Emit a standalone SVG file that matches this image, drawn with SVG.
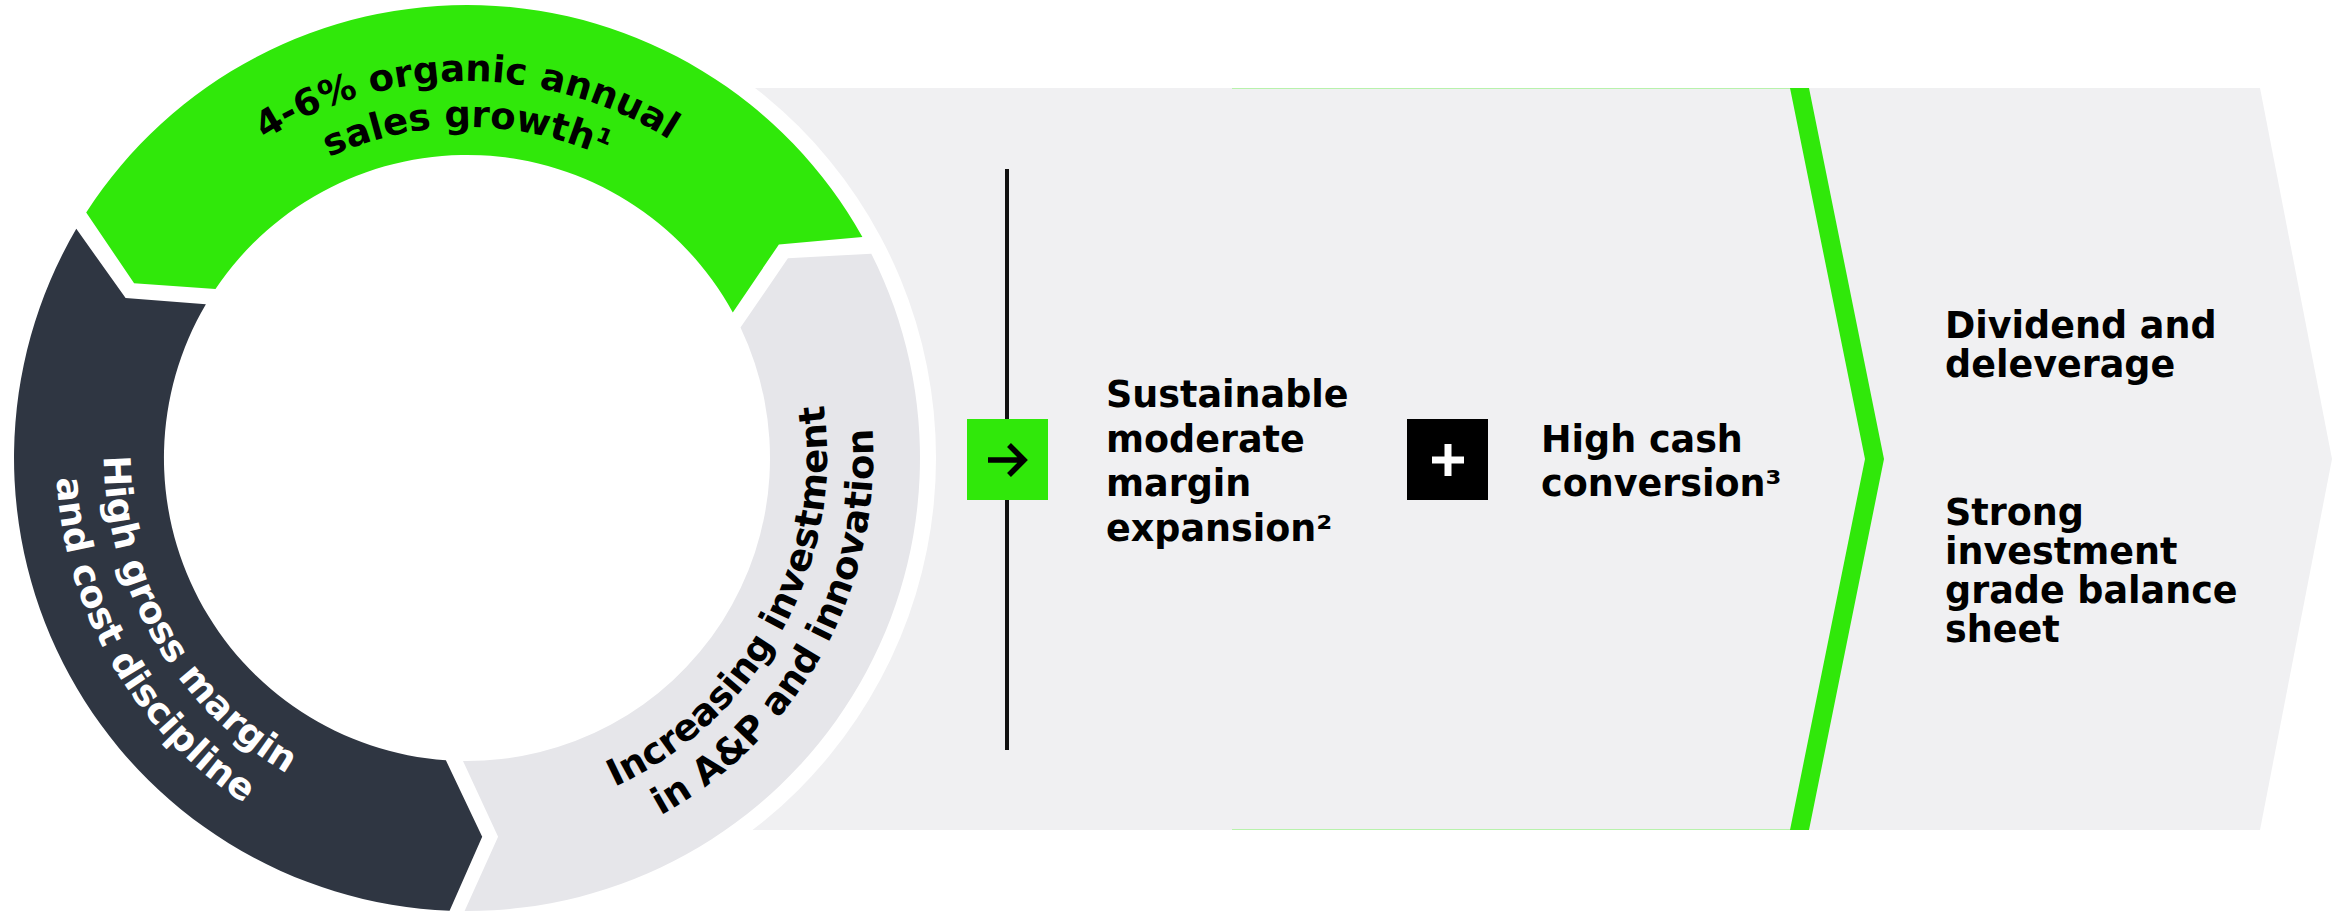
<svg xmlns="http://www.w3.org/2000/svg" width="2343" height="912" viewBox="0 0 2343 912">
  <style>
    .t { font-family: "DejaVu Sans", Verdana, sans-serif; font-weight: bold; font-size: 36.5px; fill: #000; }
    .rt { font-family: "DejaVu Sans", Verdana, sans-serif; font-weight: bold; font-size: 37px; }
    .blk { fill: #000; }
    .wht { fill: #fff; }
    .green { fill: #30E80A; }
    .dark { fill: #2F3642; }
    .ringgray { fill: #E6E6EA; }
    .bg { fill: #F0F0F2; }
  </style>
  <defs>
    <path id="g1" d="M90,458 A377,377 0 0 1 844,458"/>
    <path id="g2" d="M136,458 A331,331 0 0 1 798,458"/>
    <path id="d1" d="M283.5,140.2 A367,367 0 0 0 650.5,775.8"/>
    <path id="d2" d="M261,101.2 A412,412 0 0 0 673,814.8"/>
    <path id="y1" d="M291.7,778.1 A365,365 0 0 0 642.3,137.9"/>
    <path id="y2" d="M270.1,817.6 A410,410 0 0 0 663.9,98.4"/>
  </defs>

  <rect width="2343" height="912" fill="#fff"/>

  <g id="flow-background">
    <path class="bg" d="M700,88 H2260 L2332,459 L2260,830 H700 Z"/>
    <line x1="1232" y1="88.5" x2="1792" y2="88.5" stroke="#B8F2AC" stroke-width="1"/>
    <line x1="1232" y1="829.5" x2="1792" y2="829.5" stroke="#B8F2AC" stroke-width="1"/>
    <circle cx="467" cy="458" r="469" fill="#fff"/>
    <polygon class="green" points="1790,88 1809,88 1884,459 1809,830 1790,830 1865,459"/>
  </g>

  <g id="seg-growth">
    <path class="green" d="M86.2,212.6 A453,453 0 0 1 862.4,237 L778.9,244.4 L732.8,312.5 A303,303 0 0 0 215.5,289 L134.1,283.2 Z"/>
    <text class="rt blk"><textPath href="#g1" startOffset="50%" text-anchor="middle">4-6% organic annual</textPath></text>
    <text class="rt blk"><textPath href="#g2" startOffset="50%" text-anchor="middle">sales growth¹</textPath></text>
  </g>

  <g id="seg-margin">
    <path class="dark" d="M76.3,228.8 A453,453 0 0 0 449.6,910.7 L482.2,836.7 L445.9,760.3 A303,303 0 0 1 205.9,304.2 L125.6,298.1 Z"/>
    <text class="rt wht"><textPath href="#d1" startOffset="50%" text-anchor="middle">High gross margin</textPath></text>
    <text class="rt wht"><textPath href="#d2" startOffset="50%" text-anchor="middle">and cost discipline</textPath></text>
  </g>

  <g id="seg-investment">
    <path class="ringgray" d="M871.3,253.7 A453,453 0 0 1 464.6,911 L498.1,836.7 L463,761 A303,303 0 0 0 740.5,327.6 L787.9,258.3 Z"/>
    <text class="rt blk"><textPath href="#y1" startOffset="50%" text-anchor="middle">Increasing investment</textPath></text>
    <text class="rt blk"><textPath href="#y2" startOffset="50%" text-anchor="middle">in A&amp;P and innovation</textPath></text>
  </g>

  <g id="connectors">
    <line x1="1007" y1="169" x2="1007" y2="750" stroke="#111" stroke-width="4"/>
    <rect class="green" x="967" y="419" width="81" height="81"/>
    <path d="M988,460 H1024 M1009,445 L1024,460 L1009,475" fill="none" stroke="#000" stroke-width="5.5"/>
    <rect x="1407" y="419" width="81" height="81" fill="#000"/>
    <path d="M1448,444 V476 M1432,460 H1464" fill="none" stroke="#fff" stroke-width="7"/>
  </g>

  <g id="node-margin-expansion">
    <text class="t"><tspan x="1106" y="407">Sustainable</tspan><tspan x="1106" y="451.5">moderate</tspan><tspan x="1106" y="496">margin</tspan><tspan x="1106" y="540.5">expansion²</tspan></text>
  </g>

  <g id="node-cash-conversion">
    <text class="t"><tspan x="1541" y="452">High cash</tspan><tspan x="1541" y="496">conversion³</tspan></text>
  </g>

  <g id="node-outcomes">
    <text class="t"><tspan x="1945" y="338">Dividend and</tspan><tspan x="1945" y="377">deleverage</tspan></text>
    <text class="t"><tspan x="1945" y="525">Strong</tspan><tspan x="1945" y="564">investment</tspan><tspan x="1945" y="603">grade balance</tspan><tspan x="1945" y="642">sheet</tspan></text>
  </g>
</svg>
